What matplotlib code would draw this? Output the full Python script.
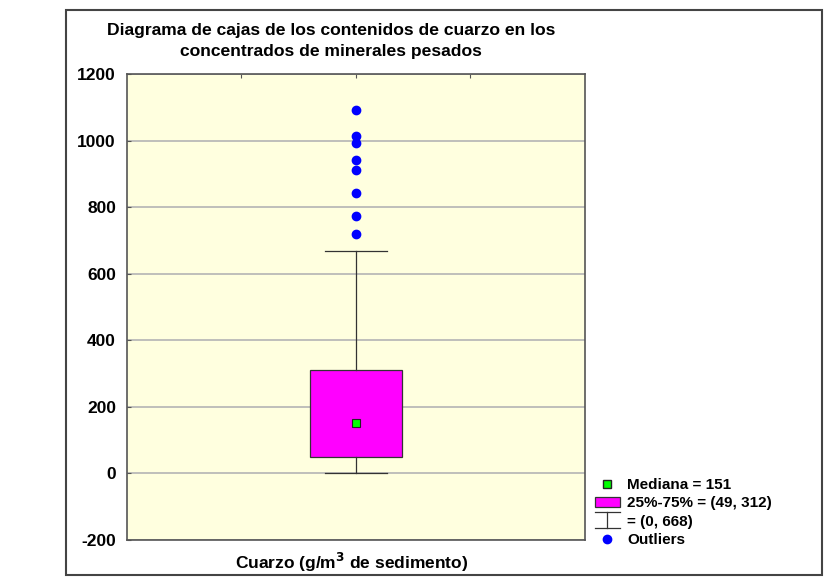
import numpy as np
import matplotlib
matplotlib.use("Agg")
import matplotlib.pyplot as plt
from matplotlib.patches import Rectangle, Patch
from matplotlib.lines import Line2D
from matplotlib.legend_handler import HandlerBase

plt.rcParams['font.family'] = ['Liberation Sans', 'DejaVu Sans']
plt.rcParams['font.weight'] = 'bold'

# datos
mediana = 151
q1 = 49
q3 = 312
bigote_min = 0
bigote_max = 668
outliers = [720, 774, 843, 913, 941, 994, 1014, 1092]
yticks = [-200, 0, 200, 400, 600, 800, 1000, 1200]

titulo = "Diagrama de cajas de los contenidos de cuarzo en los\nconcentrados de minerales pesados"
etiqueta_x = "Cuarzo (g/m$\\mathbf{^3}$ de sedimento)"


class HandlerBigote(HandlerBase):
    # dibuja el simbolo de bigote (I con tapas anchas)
    def create_artists(self, legend, orig_handle, xdescent, ydescent,
                       width, height, fontsize, trans):
        cx = -xdescent + width / 2.0
        y0 = -ydescent - 2
        y1 = -ydescent + height + 2
        x0 = -xdescent
        x1 = -xdescent + width
        arts = [Line2D([x0, x1], [y1, y1], color='#333333', lw=0.9, transform=trans),
                Line2D([cx, cx], [y0, y1], color='#333333', lw=0.9, transform=trans),
                Line2D([x0, x1], [y0, y0], color='#333333', lw=0.9, transform=trans)]
        return arts


fig = plt.figure(figsize=(8.27, 5.77), dpi=100)
fig.patch.set_facecolor('white')

# marco exterior
fig.patches.append(Rectangle((66/827, 1-575/577), (822-66)/827, (575-10)/577,
                             transform=fig.transFigure, fill=False,
                             edgecolor='#444444', lw=1.5))

ax = fig.add_axes([127/827, 1-540/577, (585-127)/827, (540-74)/577])
ax.set_facecolor('#ffffdf')

stats = [{'med': mediana, 'q1': q1, 'q3': q3, 'whislo': bigote_min,
          'whishi': bigote_max, 'fliers': outliers}]
ax.bxp(stats, positions=[0.5], widths=0.2, capwidths=0.135, patch_artist=True,
       boxprops=dict(facecolor='#ff00ff', edgecolor='#333333', lw=0.9),
       whiskerprops=dict(color='#333333', lw=0.9),
       capprops=dict(color='#333333', lw=0.9),
       medianprops=dict(linestyle='none'),
       flierprops=dict(marker='o', markerfacecolor='#0000ff',
                       markeredgecolor='#0000ff', markersize=6),
       zorder=3)
ax.plot([0.5], [mediana], marker='s', color='#00ff00', markeredgecolor='#222222',
        markersize=6, mew=0.8, zorder=4)

ax.set_xlim(0, 1)
ax.set_ylim(-200, 1200)
ax.set_yticks(yticks)
ax.set_yticklabels([str(v) for v in yticks], fontsize=12.5, fontweight='bold')
ax.set_xticks([0.25, 0.5, 0.75])
ax.tick_params(axis='x', top=True, bottom=False, labelbottom=False,
               direction='in', length=3, color='#555555')
ax.tick_params(axis='y', direction='in', length=3, color='#555555', pad=8)
ax.yaxis.grid(True, color='#b4b4b4', lw=1.2, zorder=0)
ax.set_axisbelow(True)
for s in ax.spines.values():
    s.set_color('#555555')
    s.set_linewidth(1.2)

fig.text(331/827, 1-41/577, titulo, ha='center', va='center',
         fontsize=12.6, fontweight='bold', linespacing=1.5)
fig.text(352/827, 1-562/577, etiqueta_x, ha='center', va='center',
         fontsize=12.5, fontweight='bold')

handles = [Line2D([], [], marker='s', color='#00ff00', markeredgecolor='#222222',
                  linestyle='none', markersize=6),
           Patch(facecolor='#ff00ff', edgecolor='#333333', lw=0.9),
           'bigote',
           Line2D([], [], marker='o', color='#0000ff', linestyle='none', markersize=6)]
labels = ["Mediana = 151", "25%-75% = (49, 312)", "= (0, 668)", "Outliers"]
fig.legend(handles, labels, loc='upper left', bbox_to_anchor=(589/827, 1-472/577),
           frameon=False, handlelength=1.6, handletextpad=0.5,
           labelspacing=0.28, borderaxespad=0,
           handler_map={str: HandlerBigote()},
           prop={'weight': 'bold', 'size': 11})

fig.savefig('out.png', dpi=100)
